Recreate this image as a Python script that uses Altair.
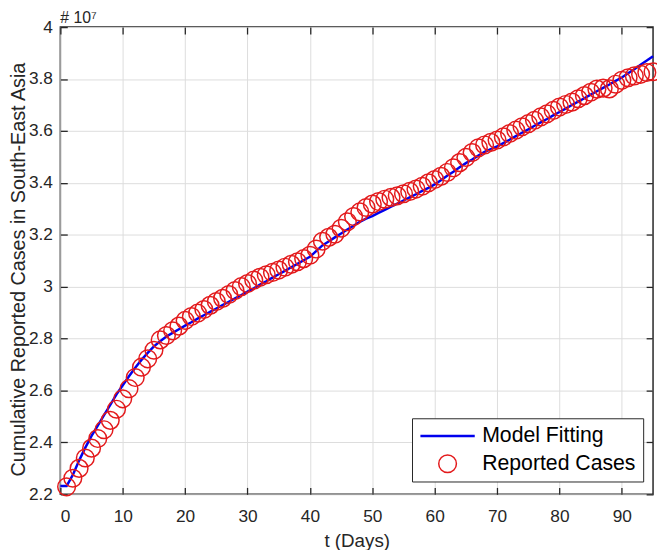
import altair as alt
import pandas as pd

# ---- data (cases in units of 1e7) ----
t_model = list(range(0, 96))
model_fit = [
    2.232, 2.232, 2.275, 2.330, 2.380, 2.425, 2.465, 2.505, 2.545, 2.585,
    2.620, 2.655, 2.688, 2.718, 2.745, 2.770, 2.790, 2.808, 2.822, 2.836,
    2.850, 2.863, 2.877, 2.890, 2.903, 2.916, 2.929, 2.942, 2.955, 2.968,
    2.981, 2.994, 3.008, 3.021, 3.035, 3.048, 3.061, 3.075, 3.088, 3.102,
    3.115, 3.137, 3.159, 3.174, 3.190, 3.205, 3.220, 3.235, 3.250, 3.262,
    3.272, 3.284, 3.296, 3.308, 3.320, 3.332, 3.344, 3.356, 3.369, 3.381,
    3.394, 3.410, 3.427, 3.443, 3.460, 3.476, 3.490, 3.505, 3.519, 3.530,
    3.540, 3.553, 3.566, 3.580, 3.593, 3.606, 3.620, 3.633, 3.646, 3.660,
    3.673, 3.686, 3.700, 3.713, 3.726, 3.740, 3.753, 3.766, 3.779, 3.793,
    3.806, 3.822, 3.838, 3.855, 3.871, 3.888,
]
t_reported = list(range(1, 96))
reported = [
    2.229, 2.262, 2.300, 2.340, 2.378, 2.415, 2.449, 2.485, 2.528, 2.568,
    2.607, 2.650, 2.690, 2.722, 2.755, 2.795, 2.812, 2.830, 2.848, 2.870,
    2.885, 2.898, 2.912, 2.928, 2.943, 2.955, 2.970, 2.985, 3.000, 3.012,
    3.025, 3.036, 3.046, 3.055, 3.064, 3.075, 3.086, 3.096, 3.108, 3.121,
    3.145, 3.175, 3.190, 3.202, 3.225, 3.250, 3.270, 3.288, 3.305, 3.318,
    3.328, 3.337, 3.344, 3.350, 3.358, 3.367, 3.376, 3.387, 3.400, 3.413,
    3.425, 3.440, 3.458, 3.478, 3.498, 3.517, 3.535, 3.546, 3.556, 3.565,
    3.577, 3.590, 3.603, 3.616, 3.628, 3.641, 3.654, 3.666, 3.679, 3.692,
    3.702, 3.711, 3.724, 3.736, 3.749, 3.761, 3.765, 3.762, 3.780, 3.795,
    3.805, 3.812, 3.818, 3.825, 3.828,
]
x_ticks = [0, 10, 20, 30, 40, 50, 60, 70, 80, 90]
y_ticks = [2.2, 2.4, 2.6, 2.8, 3.0, 3.2, 3.4, 3.6, 3.8, 4.0]
series_names = ["Model Fitting", "Reported Cases"]

model_df = pd.DataFrame({"t": t_model, "cases": model_fit, "series": series_names[0]})
rep_df = pd.DataFrame({"t": t_reported, "cases": reported, "series": series_names[1]})

FONT = "Liberation Sans"
AX = "#262626"

xs = alt.Scale(domain=[0, 95], nice=False, zero=False)
ys = alt.Scale(domain=[2.2, 4.0], nice=False, zero=False)

legend = alt.Legend(
    title=None, orient="none", legendX=356, legendY=396,
    labelFontSize=21.5, labelFont=FONT, labelColor="#000000",
    strokeColor=AX, fillColor="white", padding=7, rowPadding=6,
    labelOffset=6, cornerRadius=0, clipHeight=22,
)
color_enc = alt.Color("series:N", scale=alt.Scale(domain=series_names, range=["#0000ee", "#e31a1c"]), legend=legend)
shape_enc = alt.Shape("series:N", scale=alt.Scale(domain=series_names, range=["stroke", "circle"]), legend=legend)
size_enc = alt.Size("series:N", scale=alt.Scale(domain=series_names, range=[3025, 320]), legend=legend)
sw_enc = alt.StrokeWidth("series:N", scale=alt.Scale(domain=series_names, range=[2.5, 1.5]), legend=legend)

# main axes: labels + grid
x_main = alt.Axis(values=x_ticks, grid=True, ticks=False, domain=False, labelPadding=14,
                  title="t (Days)", titlePadding=6, orient="bottom")
y_main = alt.Axis(values=y_ticks, format=".1~f", grid=True, ticks=False, domain=False, labelPadding=8,
                  title="Cumulative Reported Cases in South-East Asia", titleX=-42, titleY=245,
                  titleBaseline="middle", titleFontSize=20, orient="left")

def tick_axis(orient, vals):
    return alt.Axis(values=vals, orient=orient, labels=False, grid=False, domain=False, ticks=True,
                    tickSize=7, offset=-7, title=None, tickColor=AX, tickWidth=1.3)

line = alt.Chart(model_df).mark_line(strokeWidth=2.5).encode(
    x=alt.X("t:Q", scale=xs, axis=x_main),
    y=alt.Y("cases:Q", scale=ys, axis=y_main),
    color=color_enc,
    strokeWidth=sw_enc,
)

points = alt.Chart(rep_df).mark_point(filled=False, opacity=1).encode(
    x=alt.X("t:Q", scale=xs, axis=tick_axis("bottom", x_ticks)),
    y=alt.Y("cases:Q", scale=ys, axis=tick_axis("left", y_ticks)),
    color=color_enc,
    shape=shape_enc,
    size=size_enc,
    strokeWidth=sw_enc,
)

ghost = alt.Chart(rep_df).mark_point(opacity=0).encode(
    x=alt.X("t:Q", scale=xs, axis=tick_axis("top", x_ticks)),
    y=alt.Y("cases:Q", scale=ys, axis=tick_axis("right", y_ticks)),
)

chart = alt.layer(line, points, ghost).resolve_axis(x="independent", y="independent").properties(
    width=600, height=473,
    autosize=alt.AutoSizeParams(type="none"),
    padding={"left": 53, "top": 16, "right": 4, "bottom": 53},
    title=alt.TitleParams(text="# 10⁷", anchor="start", frame="group", fontSize=16,
                          fontWeight="normal", color=AX, font=FONT, offset=-8),
).configure_axis(
    labelFont=FONT, labelFontSize=17.5, labelColor=AX,
    titleFont=FONT, titleFontSize=19, titleFontWeight="normal", titleColor=AX,
    gridColor="#dcdcdc", gridWidth=1,
).configure_view(stroke=AX, strokeWidth=1.5)

chart.save("out.html", embed_options={"renderer": "svg", "actions": False})
